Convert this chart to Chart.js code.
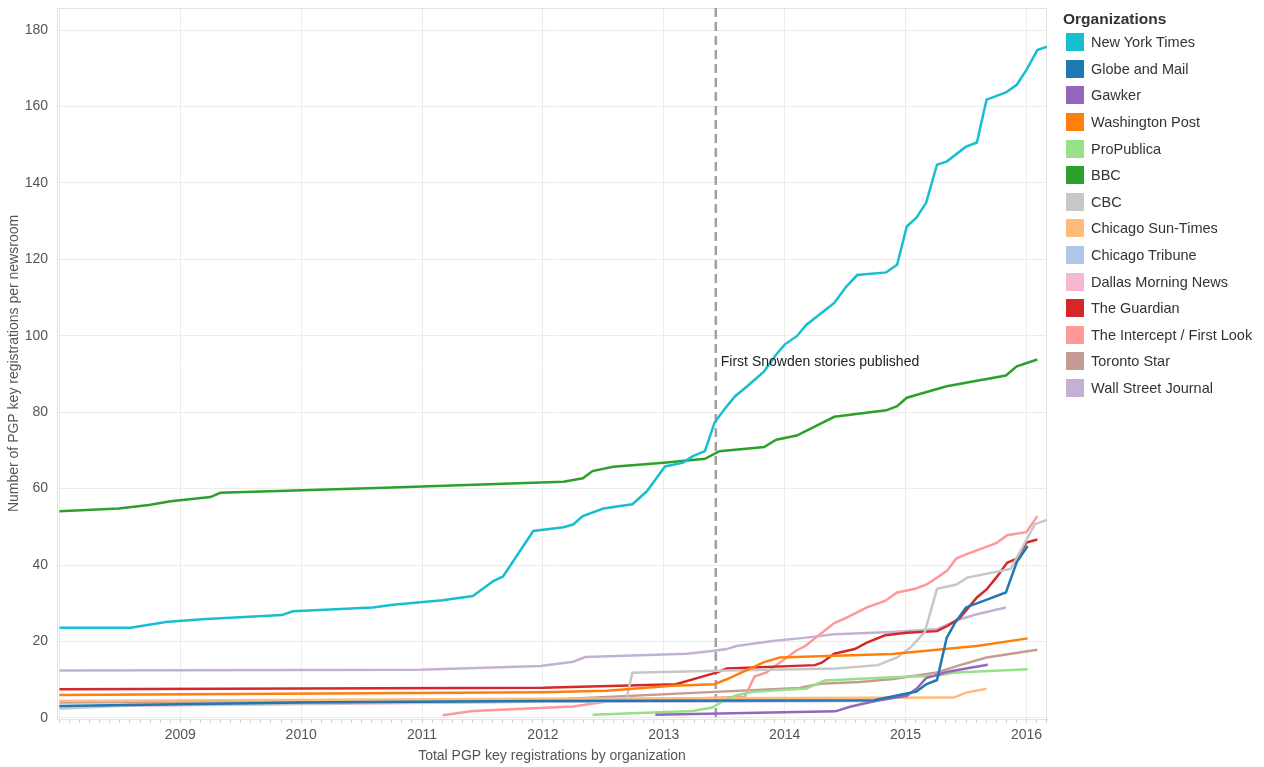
<!DOCTYPE html>
<html>
<head>
<meta charset="utf-8">
<script src="https://cdn.jsdelivr.net/npm/chart.js@4.4.1/dist/chart.umd.min.js"></script>
<style>
  body { margin: 0; background: #fff; font-family: "Liberation Sans", Arial, sans-serif; }
  #wrap { position: relative; width: 1264px; height: 767px; }
  #legend { position: absolute; left: 1063px; top: 9px; color: #333; }
  #legend .title { font-weight: bold; font-size: 15.5px; color: #333; height: 20px; line-height: 20px; }
  #legend .item { height: 26.6px; display: flex; align-items: center; font-size: 14.5px; }
  #legend .sw { width: 18px; height: 18px; margin-left: 3px; margin-right: 7px; }
</style>
</head>
<body>
<div id="wrap">
  <canvas id="pgpChart"></canvas>
  <div id="legend"></div>
</div>
<script>
// Organizations, in legend order
const orgNames = ['New York Times', 'Globe and Mail', 'Gawker', 'Washington Post', 'ProPublica', 'BBC', 'CBC',
  'Chicago Sun-Times', 'Chicago Tribune', 'Dallas Morning News', 'The Guardian', 'The Intercept / First Look',
  'Toronto Star', 'Wall Street Journal'];
const orgColors = ['#17becf', '#1f77b4', '#9467bd', '#ff7f0e', '#98df8a', '#2ca02c', '#c7c7c7',
  '#ffbb78', '#aec7e8', '#f7b6d2', '#d62728', '#ff9896', '#c49c94', '#c5b0d5'];

// [year, total keys] pairs
const nytimes = [[2008.0, 23.6], [2008.59, 23.6], [2008.88, 25.1], [2009.18, 25.8], [2009.84, 26.9], [2009.93, 27.9],
  [2010.59, 28.9], [2010.76, 29.6], [2011.17, 30.8], [2011.42, 31.9], [2011.59, 35.8], [2011.67, 37.0], [2011.92, 48.9],
  [2012.17, 49.9], [2012.25, 50.6], [2012.33, 52.8], [2012.5, 54.8], [2012.74, 55.9], [2012.86, 59.3], [2013.01, 65.8],
  [2013.16, 66.8], [2013.24, 68.5], [2013.34, 69.8], [2013.42, 77.3], [2013.5, 80.7], [2013.59, 84.2], [2013.69, 86.8],
  [2013.83, 90.7], [2013.93, 95.1], [2014.0, 97.7], [2014.1, 99.9], [2014.18, 102.9], [2014.41, 108.6], [2014.51, 112.9],
  [2014.6, 115.9], [2014.84, 116.6], [2014.93, 118.6], [2015.01, 128.6], [2015.09, 130.9], [2015.17, 134.8],
  [2015.26, 144.8], [2015.34, 145.6], [2015.5, 149.5], [2015.59, 150.6], [2015.67, 161.8], [2015.83, 163.7],
  [2015.92, 165.7], [2016.0, 169.6], [2016.09, 174.8], [2016.17, 175.7]];
const globeMail = [[2008.0, 3.1], [2010.0, 4.0], [2012.0, 4.4], [2014.74, 4.6], [2015.01, 6.4], [2015.09, 6.9],
  [2015.17, 8.8], [2015.26, 9.9], [2015.34, 20.9], [2015.41, 24.9], [2015.5, 28.9], [2015.83, 32.8], [2015.92, 40.8],
  [2016.01, 45.0]];
const gawker = [[2012.93, 0.8], [2014.42, 1.7], [2014.54, 2.9], [2014.75, 4.4], [2015.01, 5.8], [2015.1, 7.9],
  [2015.17, 10.4], [2015.34, 12.0], [2015.5, 12.9], [2015.68, 13.9]];
const washPost = [[2008.0, 6.0], [2012.0, 6.7], [2012.53, 7.1], [2013.07, 8.4], [2013.42, 8.8], [2013.52, 10.1],
  [2013.83, 14.6], [2013.96, 15.8], [2014.89, 16.7], [2015.59, 18.8], [2016.01, 20.8]];
const proPublica = [[2012.41, 0.8], [2013.24, 1.8], [2013.4, 2.7], [2013.49, 4.4], [2013.6, 5.9], [2013.74, 6.8],
  [2014.18, 7.7], [2014.33, 9.8], [2014.89, 10.6], [2015.26, 11.0], [2015.42, 11.9], [2016.01, 12.7]];
const bbc = [[2008.0, 54.1], [2008.49, 54.8], [2008.74, 55.7], [2008.92, 56.7], [2009.25, 57.8], [2009.33, 58.9],
  [2010.01, 59.6], [2010.69, 60.2], [2012.17, 61.8], [2012.33, 62.7], [2012.41, 64.6], [2012.58, 65.7], [2013.0, 66.8],
  [2013.34, 67.8], [2013.46, 69.8], [2013.83, 70.9], [2013.93, 72.8], [2014.1, 73.9], [2014.41, 78.8], [2014.84, 80.5],
  [2014.93, 81.6], [2015.01, 83.8], [2015.34, 86.8], [2015.83, 89.6], [2015.92, 92.0], [2016.09, 93.8]];
const cbc = [[2008.0, 2.4], [2008.6, 3.3], [2012.0, 4.3], [2012.69, 4.9], [2012.74, 11.8], [2013.44, 12.3],
  [2014.43, 12.9], [2014.77, 13.8], [2014.93, 15.8], [2015.04, 18.4], [2015.16, 22.5], [2015.26, 33.8], [2015.42, 34.9],
  [2015.51, 36.7], [2015.87, 39.0], [2016.07, 50.7], [2016.17, 51.8]];
const sunTimes = [[2008.0, 4.4], [2012.0, 5.0], [2015.4, 5.3], [2015.5, 6.6], [2015.67, 7.6]];
const tribune = [[2008.0, 2.6], [2008.6, 3.5], [2012.0, 4.3], [2014.7, 4.4]];
const dallas = [[2008.0, 3.0], [2012.0, 4.2], [2014.7, 4.4]];
const guardian = [[2008.0, 7.5], [2012.0, 7.9], [2013.1, 8.8], [2013.44, 11.9], [2013.52, 12.9], [2014.25, 13.8],
  [2014.31, 14.5], [2014.41, 16.8], [2014.58, 18.0], [2014.68, 19.7], [2014.83, 21.6], [2015.01, 22.3], [2015.26, 22.7],
  [2015.35, 24.1], [2015.45, 26.2], [2015.59, 31.5], [2015.67, 33.6], [2015.75, 36.7], [2015.84, 40.6], [2015.92, 41.7],
  [2016.0, 45.9], [2016.09, 46.7]];
const intercept = [[2011.17, 0.7], [2011.42, 1.8], [2012.25, 3.0], [2012.53, 4.3], [2013.67, 5.5], [2013.75, 10.8],
  [2013.85, 11.9], [2014.09, 17.5], [2014.17, 18.8], [2014.41, 24.8], [2014.51, 26.2], [2014.68, 28.9], [2014.83, 30.6],
  [2014.93, 32.8], [2015.08, 33.8], [2015.18, 35.0], [2015.34, 38.4], [2015.42, 41.7], [2015.5, 42.8], [2015.75, 45.7],
  [2015.84, 47.8], [2016.0, 48.6], [2016.09, 52.8]];
const torontoStar = [[2008.0, 4.0], [2012.0, 4.7], [2013.42, 6.8], [2014.12, 7.8], [2014.29, 8.9], [2014.62, 9.4],
  [2014.9, 10.2], [2015.26, 11.9], [2015.45, 13.8], [2015.67, 15.8], [2016.09, 17.8]];
const wsj = [[2008.0, 12.4], [2010.98, 12.6], [2011.98, 13.6], [2012.25, 14.7], [2012.35, 15.9], [2013.19, 16.8],
  [2013.4, 17.5], [2013.52, 18.0], [2013.6, 18.8], [2013.9, 20.1], [2014.18, 21.0], [2014.41, 21.9], [2014.89, 22.5],
  [2015.26, 23.2], [2015.45, 25.8], [2015.59, 27.1], [2015.83, 28.9]];

const orgSeries = [nytimes, globeMail, gawker, washPost, proPublica, bbc, cbc, sunTimes, tribune, dallas,
  guardian, intercept, torontoStar, wsj];

const yTicks = [0, 20, 40, 60, 80, 100, 120, 140, 160, 180];
const snowdenDate = 2013.43;
const snowdenLabel = 'First Snowden stories published';

// legend
const legendEl = document.getElementById('legend');
legendEl.innerHTML = '<div class="title">Organizations</div>' + orgNames.map((n, i) =>
  '<div class="item"><span class="sw" style="background:' + orgColors[i] + '"></span>' + n + '</div>').join('');

// dashed marker + label, plus the light frame round the plot
const snowdenMarker = {
  id: 'snowdenMarker',
  beforeDatasetsDraw(chart) {
    const { ctx, chartArea: a, scales } = chart;
    ctx.save();
    ctx.strokeStyle = '#e3e3e3';
    ctx.lineWidth = 1;
    ctx.strokeRect(a.left + 0.5, a.top + 0.5, a.right - a.left - 1, a.bottom - a.top);
    const x = scales.x.getPixelForValue(snowdenDate);
    ctx.strokeStyle = '#a0a0a0';
    ctx.lineWidth = 2.5;
    ctx.setLineDash([9, 5]);
    ctx.beginPath();
    ctx.moveTo(x, a.top);
    ctx.lineTo(x, a.bottom);
    ctx.stroke();
    ctx.restore();
  },
  afterDatasetsDraw(chart) {
    const { ctx, scales } = chart;
    ctx.save();
    ctx.font = '14px "Liberation Sans", Arial, sans-serif';
    ctx.fillStyle = '#222';
    ctx.textBaseline = 'middle';
    ctx.fillText(snowdenLabel, scales.x.getPixelForValue(snowdenDate) + 5, scales.y.getPixelForValue(93));
    ctx.restore();
  }
};

const isYear = v => Math.abs(v - Math.round(v)) < 1e-6;

new Chart(document.getElementById('pgpChart'), {
  type: 'line',
  data: {
    datasets: orgSeries.map((s, i) => ({
      label: orgNames[i],
      data: s.map(p => ({ x: p[0], y: p[1] })),
      borderColor: orgColors[i],
      backgroundColor: orgColors[i],
      borderWidth: 2.5,
      pointRadius: 0,
      tension: 0
    }))
  },
  options: {
    responsive: true,
    maintainAspectRatio: false,
    animation: false,
    layout: { padding: { top: 8, right: 217, left: 0, bottom: 0 } },
    plugins: {
      legend: { display: false },
      tooltip: { enabled: false }
    },
    scales: {
      x: {
        type: 'linear',
        min: 2007.98,
        max: 2016.17,
        afterBuildTicks(scale) {
          const t = [];
          for (let m = 0; 2008 + m / 12 <= 2016.17; m++) t.push({ value: 2008 + m / 12 });
          scale.ticks = t;
        },
        afterFit(scale) { scale.height = 48; scale.paddingLeft = 0; scale.paddingRight = 0; },
        ticks: {
          autoSkip: false,
          maxRotation: 0,
          padding: 4,
          color: '#555',
          font: { family: '"Liberation Sans", Arial, sans-serif', size: 14 },
          callback: v => (isYear(v) && Math.round(v) > 2008) ? String(Math.round(v)) : ''
        },
        grid: {
          color: c => (c.tick && isYear(c.tick.value)) ? '#ececec' : 'rgba(0,0,0,0)',
          tickColor: '#d0d0d0',
          tickLength: 4
        },
        border: { color: '#d0d0d0' },
        title: {
          display: true,
          text: 'Total PGP key registrations by organization',
          color: '#555',
          font: { family: '"Liberation Sans", Arial, sans-serif', size: 14 },
          padding: { top: 0, bottom: 2 }
        }
      },
      y: {
        min: -0.3,
        max: 185.8,
        afterBuildTicks(scale) { scale.ticks = yTicks.map(v => ({ value: v })); },
        afterFit(scale) { scale.width = 57; scale.paddingTop = 0; scale.paddingBottom = 0; },
        ticks: {
          padding: 9,
          color: '#555',
          font: { family: '"Liberation Sans", Arial, sans-serif', size: 14 }
        },
        grid: { color: '#ececec', drawTicks: false },
        border: { color: '#e3e3e3' },
        title: {
          display: true,
          text: 'Number of PGP key registrations per newsroom',
          color: '#555',
          font: { family: '"Liberation Sans", Arial, sans-serif', size: 14 },
          padding: { top: 6, bottom: 0 }
        }
      }
    }
  },
  plugins: [snowdenMarker]
});
</script>
</body>
</html>
